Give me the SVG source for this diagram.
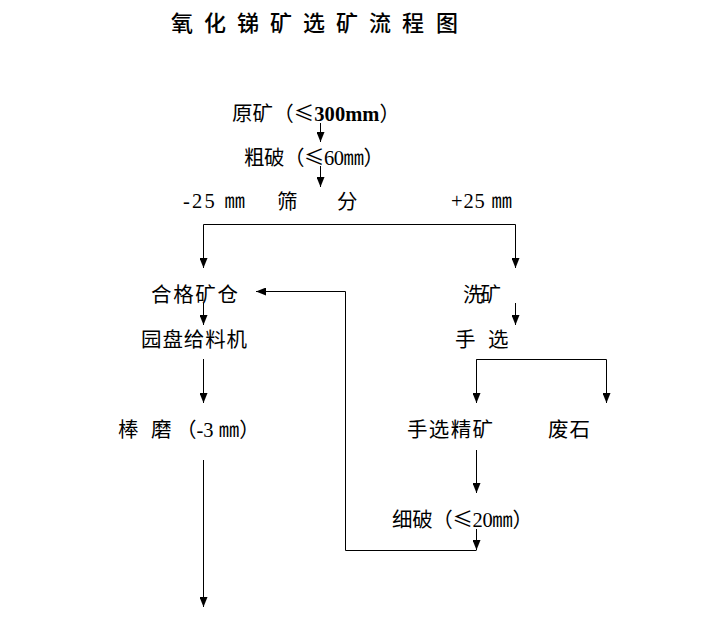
<svg xmlns="http://www.w3.org/2000/svg" width="711" height="627" viewBox="0 0 711 627">
<style>
text{font-family:"Liberation Serif","Noto Sans CJK SC",serif;font-size:20.5px;fill:#000}
.t{font-size:22px;font-weight:500}
.c{font-family:"Noto Sans CJK SC",sans-serif}
.b{font-weight:bold}
.ln{fill:none;stroke:#000;stroke-width:1}
</style>
<defs>
<marker id="ah" markerUnits="userSpaceOnUse" markerWidth="10" markerHeight="8" refX="10" refY="4" orient="auto">
<path d="M0,0 L10,4 L0,8 z" fill="#000"/>
</marker>
</defs>
<rect width="711" height="627" fill="#fff"/>
<g id="title"><text class="t" y="31" x="171 194 204 227 237 260 270 293 303 326 336 359 369 392 402 425 436">氧 化 锑 矿 选 矿 流 程 图</text></g>
<g id="n-raw"><text x="232" y="121" textLength="168">原矿（<tspan class="c">≤</tspan><tspan class="b">300mm</tspan>）</text></g>
<g id="n-coarse"><text x="244" y="165" textLength="140">粗破（<tspan class="c">≤</tspan>60㎜）</text></g>
<g id="n-screen"><text x="277" y="209">筛</text><text x="337" y="209">分</text></g>
<g id="l-minus"><text x="183" y="208" textLength="62">-25 ㎜</text></g>
<g id="l-plus"><text x="451" y="208" textLength="61">+25 ㎜</text></g>
<g id="n-bin"><text x="151" y="302" textLength="87">合格矿仓</text></g>
<g id="n-feeder"><text x="141" y="347" textLength="106">园盘给料机</text></g>
<g id="n-rod"><text y="437"><tspan x="118">棒 </tspan><tspan x="151">磨 </tspan><tspan x="176">（-3 ㎜）</tspan></text></g>
<g id="n-wash"><text x="463" y="302" textLength="38">洗矿</text></g>
<g id="n-hand"><text y="347"><tspan x="455">手 </tspan><tspan x="488">选</tspan></text></g>
<g id="n-conc"><text x="407" y="437" textLength="86">手选精矿</text></g>
<g id="n-waste"><text x="548" y="437" textLength="42">废石</text></g>
<g id="n-fine"><text x="392" y="527" textLength="141">细破（<tspan class="c">≤</tspan>20㎜）</text></g>
<g id="connectors">
<path class="ln" d="M320.5,123 V142" marker-end="url(#ah)"/>
<path class="ln" d="M320.5,166 V187" marker-end="url(#ah)"/>
<path class="ln" d="M203.5,224.5 V268" marker-end="url(#ah)"/>
<path class="ln" d="M203.5,224.5 H515.5 V268" marker-end="url(#ah)"/>
<path class="ln" d="M203.5,303 V325" marker-end="url(#ah)"/>
<path class="ln" d="M515.5,303 V325" marker-end="url(#ah)"/>
<path class="ln" d="M203.5,359 V403" marker-end="url(#ah)"/>
<path class="ln" d="M476.5,403 V359.5 H606.5 V403" marker-end="url(#ah)"/>
<path class="ln" d="M476.5,359.5 V403" marker-end="url(#ah)"/>
<path class="ln" d="M203.5,460 V607" marker-end="url(#ah)"/>
<path class="ln" d="M476.5,450 V493" marker-end="url(#ah)"/>
<path class="ln" d="M476.5,529 V550" marker-end="url(#ah)"/>
<path class="ln" d="M476.5,550.5 H345.5 V291.5 H256" marker-end="url(#ah)"/>
</g>
</svg>
